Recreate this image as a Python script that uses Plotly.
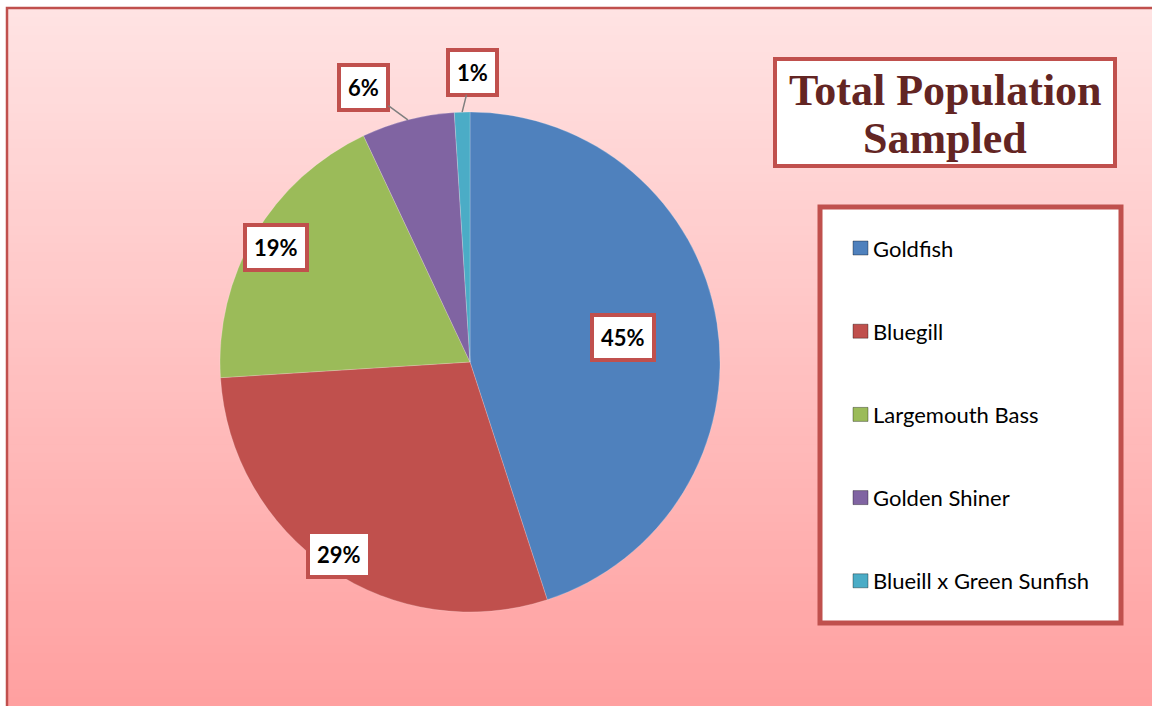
import math
import plotly.graph_objects as go

# ---- data ----
categories = ["Goldfish", "Bluegill", "Largemouth Bass", "Golden Shiner", "Blueill x Green Sunfish"]
values = [45, 29, 19, 6, 1]
colors = ["#4F81BD", "#C0504D", "#9BBB59", "#8064A2", "#4BACC6"]
title_lines = ["Total Population", "Sampled"]

W, H = 1152, 706
def X(px): return px / W
def Y(py): return 1 - py / H

# pie geometry (pixels)
cx, cy, r = 470, 362, 250

fig = go.Figure()
fig.add_trace(go.Pie(
    labels=categories, values=values, sort=False, direction="clockwise", rotation=0,
    marker=dict(colors=colors, line=dict(color="rgba(255,255,255,0.35)", width=0.6)),
    textinfo="none", showlegend=False,
    domain=dict(x=[X(cx - r), X(cx + r)], y=[Y(cy + r), Y(cy - r)]),
))

shapes = []
# gradient background
N = 80
top_c, bot_c = (255, 227, 227), (255, 160, 160)
y0p, y1p = 8, H
for i in range(N):
    t = i / (N - 1)
    c = tuple(round(top_c[k] + (bot_c[k] - top_c[k]) * t) for k in range(3))
    ya = y0p + (y1p - y0p) * i / N
    yb = y0p + (y1p - y0p) * (i + 1) / N + 1
    shapes.append(dict(type="rect", xref="paper", yref="paper", layer="below",
                       x0=X(7), x1=X(W), y0=Y(ya), y1=Y(yb),
                       fillcolor="rgb(%d,%d,%d)" % c, line=dict(width=0)))
# outer border
shapes.append(dict(type="rect", xref="paper", yref="paper", layer="below",
                   x0=X(7), x1=X(W + 10), y0=Y(8), y1=Y(H + 10),
                   fillcolor="rgba(0,0,0,0)", line=dict(color="#C0504D", width=2.5)))
# title box
shapes.append(dict(type="rect", xref="paper", yref="paper", layer="above",
                   x0=X(775), x1=X(1115), y0=Y(59), y1=Y(166),
                   fillcolor="white", line=dict(color="#C0504D", width=4)))
# legend box
shapes.append(dict(type="rect", xref="paper", yref="paper", layer="above",
                   x0=X(820), x1=X(1121), y0=Y(207), y1=Y(623),
                   fillcolor="white", line=dict(color="#C0504D", width=5)))

annotations = []
# title
for i, line in enumerate(title_lines):
    annotations.append(dict(text="<b>%s</b>" % line, x=X(945), y=Y(90 + 49 * i),
                            xref="paper", yref="paper", showarrow=False,
                            xanchor="center", yanchor="middle",
                            font=dict(family="Liberation Serif", size=44, color="#632523")))

# legend entries
for i, (cat, col) in enumerate(zip(categories, colors)):
    yc = 248 + 83.2 * i
    shapes.append(dict(type="rect", xref="paper", yref="paper", layer="above",
                       x0=X(853), x1=X(868), y0=Y(yc + 7), y1=Y(yc - 7),
                       fillcolor=col, line=dict(color="rgba(0,0,0,0.35)", width=1)))
    annotations.append(dict(text=cat, x=X(871), y=Y(yc), xref="paper", yref="paper",
                            showarrow=False, xanchor="left", yanchor="middle",
                            font=dict(family="Lato", size=22, color="black")))

# data labels
total = sum(values)
cum = 0
label_k = [0.62, 0.93, 0.9, 1.0, 1.0]
outside = [None, None, None, (-44, -32), (10, -40)]
for i, v in enumerate(values):
    mid = (cum + v / 2) / total
    cum += v
    th = 2 * math.pi * mid
    k = label_k[i]
    px = cx + r * k * math.sin(th)
    py = cy - r * k * math.cos(th)
    pct = "<b>%d%%</b>" % round(100 * v / total)
    a = dict(text=pct, x=X(px), y=Y(py), xref="paper", yref="paper",
             font=dict(family="Lato", size=22, color="black"),
             bgcolor="white", bordercolor="#C0504D", borderwidth=4, borderpad=7)
    if outside[i] is None:
        a.update(showarrow=False, xanchor="center", yanchor="middle")
    else:
        a.update(showarrow=True, arrowhead=0, arrowwidth=1.5, arrowcolor="#7F7F7F",
                 ax=outside[i][0], ay=outside[i][1], standoff=0)
    annotations.append(a)

fig.update_layout(
    width=W, height=H, margin=dict(l=0, r=0, t=0, b=0),
    paper_bgcolor="white", plot_bgcolor="white",
    shapes=shapes, annotations=annotations, showlegend=False,
)
fig.write_html("out.html", config={"displayModeBar": False},
               post_script="document.body.style.margin='0';document.body.style.overflow='hidden';")
